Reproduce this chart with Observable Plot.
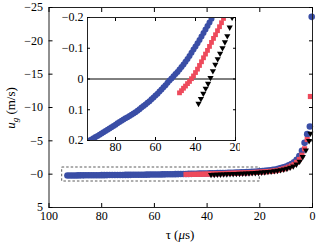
<!DOCTYPE html>
<html><head><meta charset="utf-8">
<script src="https://cdn.jsdelivr.net/npm/d3@7"></script>
<script src="https://cdn.jsdelivr.net/npm/@observablehq/plot@0.6"></script>
<style>
html,body{margin:0;padding:0;background:#fff;}
#wrap{position:relative;width:316px;height:250px;overflow:hidden;font-family:"Liberation Serif","DejaVu Serif",serif;}
#wrap svg{position:absolute;left:0;top:0;}
</style></head><body><div id="wrap"></div>
<script>
// ---- data ----
const blueTau = [93,92,91,90,89,88,87,86,85,84,83,82,81,80,79,78,77,76,75,74,73,72,71,70,69,68,67,66,65,64,63,62,61,60,59,58,57,56,55,54,53,52,51,50,49,48,47,46,45,44,43,42,41,40,39,38,37,36,35,34,33,32,31,30,29,28,27,26,25,24,23,22,21,20,19,18,17,16,15,14,13,12,11,10,9,8,7,6,5,4,3,2,1,0.3];
const blueU = [0.200,0.197,0.193,0.189,0.185,0.181,0.177,0.173,0.169,0.165,0.161,0.157,0.153,0.149,0.144,0.140,0.136,0.132,0.128,0.124,0.120,0.116,0.112,0.108,0.103,0.098,0.093,0.088,0.083,0.077,0.072,0.066,0.060,0.054,0.048,0.041,0.034,0.027,0.020,0.012,0.005,-0.002,-0.009,-0.016,-0.023,-0.031,-0.039,-0.047,-0.056,-0.065,-0.075,-0.085,-0.096,-0.106,-0.116,-0.127,-0.138,-0.150,-0.161,-0.172,-0.184,-0.196,-0.208,-0.22,-0.235,-0.25,-0.265,-0.28,-0.30,-0.32,-0.34,-0.36,-0.39,-0.42,-0.45,-0.49,-0.53,-0.58,-0.64,-0.71,-0.80,-0.90,-1.02,-1.16,-1.32,-1.52,-1.78,-2.15,-2.7,-3.5,-4.7,-6.0,-7.15,-23.6];
const redTau = [48,47,46,45,44,43,42,41,40,39,38,37,36,35,34,33,32,31,30,29,28,27,26,25,24,23,22,21,20,19,18,17,16,15,14,13,12,11,10,9,8,7,6,5,4,3,2,0.8];
const redU = [0.045,0.038,0.030,0.023,0.015,0.008,-0.001,-0.010,-0.021,-0.032,-0.044,-0.056,-0.069,-0.081,-0.093,-0.106,-0.119,-0.132,-0.144,-0.157,-0.170,-0.183,-0.197,-0.21,-0.225,-0.24,-0.26,-0.28,-0.30,-0.33,-0.36,-0.39,-0.43,-0.47,-0.52,-0.58,-0.70,-0.80,-0.92,-1.06,-1.24,-1.46,-1.78,-2.2,-2.85,-3.8,-5.2,-11.65];
const blackTau = [38.5,37.3,36.1,34.9,33.7,32.5,31.3,30.1,28.9,27.7,26.5,25.3,24.1,22.9,21.7,20.5,19.3,18.1,16.9,15.7,14.5,13.3,12.1,10.9,9.7,8.5,7.3,6.1,4.9,3.7,2.5,1.3,0.8];
const blackU = [0.080,0.064,0.047,0.031,0.015,-0.004,-0.026,-0.047,-0.065,-0.083,-0.101,-0.120,-0.140,-0.168,-0.20,-0.235,-0.27,-0.31,-0.36,-0.41,-0.47,-0.54,-0.62,-0.72,-0.84,-1.0,-1.2,-1.48,-1.9,-2.6,-3.6,-5.0,-6.1];

const xTicks = [100,80,60,40,20,0];
const yTicks = [-25,-20,-15,-10,-5,0,5];
const yTickLabels = ["\u221225","\u221220","\u221215","\u221210","\u22125","\u22120","5"];
const insetXTicks = [80,60,40,20];
const insetYTicks = [-0.2,-0.1,0,0.1,0.2];
const insetYTickLabels = ["\u22120.2","\u22120.1","0","0.1","0.2"];
const zoomBox = {tau1: 95, tau2: 20, u1: -1, u2: 1.1};
const insetRef = [0];

const blue = "#3a4ea6", red = "#ee4a5c", black = "#000";
const mk = (t, u) => t.map((d, i) => ({tau: d, u: u[i]}));
const blueData = mk(blueTau, blueU), redData = mk(redTau, redU), blackData = mk(blackTau, blackU);

const font = "'Liberation Serif','Times New Roman','DejaVu Serif',serif";
const wrap = document.getElementById("wrap");

const main = Plot.plot({
  width: 316, height: 250,
  marginLeft: 48.5, marginRight: 4, marginTop: 7, marginBottom: 43,
  style: {fontFamily: font, fontSize: "12px", background: "transparent", color: "#000"},
  x: {domain: [100, 0], label: null},
  y: {domain: [5, -25], label: null},
  marks: [
    Plot.rect([zoomBox], {x1: "tau1", x2: "tau2", y1: "u1", y2: "u2", fill: "none", stroke: "#333", strokeWidth: 0.8, strokeDasharray: "2.5,2"}),
    Plot.dot(blueData, {x: "tau", y: "u", r: 3.3, fill: blue}),
    Plot.dot(redData, {x: "tau", y: "u", r: 2.9, symbol: "square", fill: red}),
    Plot.dot(blackData, {x: "tau", y: "u", r: 2.3, symbol: "triangle", rotate: 180, fill: black}),
    Plot.frame({stroke: "#222"}),
    Plot.axisX(xTicks, {anchor: "bottom", tickSize: 0, tickPadding: 4, label: null, tickFormat: d => String(d)}),
    Plot.axisX(xTicks, {anchor: "bottom", tickSize: -4, tickFormat: () => "", label: null}),
    Plot.axisX(xTicks, {anchor: "top", tickSize: -4, tickFormat: () => "", label: null}),
    Plot.axisY(yTicks, {anchor: "left", tickSize: 0, tickPadding: 6, label: null, tickFormat: (d, i) => yTickLabels[i]}),
    Plot.axisY(yTicks, {anchor: "left", tickSize: -4, tickFormat: () => "", label: null}),
    Plot.axisY(yTicks, {anchor: "right", tickSize: -4, tickFormat: () => "", label: null})
  ]
});
wrap.appendChild(main);

// axis titles
const svg = d3.select(main);
const xl = svg.append("text").attr("x", 180).attr("y", 239).attr("text-anchor", "middle")
  .attr("font-family", font).attr("font-size", 13).attr("fill", "#000");
xl.append("tspan").text("\u03c4 (");
xl.append("tspan").attr("font-style", "italic").text("\u03bc");
xl.append("tspan").text("s)");
const yl = svg.append("text").attr("transform", "translate(15,108) rotate(-90)").attr("text-anchor", "middle")
  .attr("font-family", font).attr("font-size", 13).attr("fill", "#000");
yl.append("tspan").attr("font-style", "italic").text("u");
yl.append("tspan").attr("font-style", "italic").attr("font-size", 9).attr("dy", 3).text("g");
yl.append("tspan").attr("dy", -3).text(" (m/s)");

// inset
const inset = Plot.plot({
  width: 193, height: 152,
  marginLeft: 40, marginRight: 5, marginTop: 11, marginBottom: 18,
  style: {fontFamily: font, fontSize: "12px", background: "transparent", color: "#000"},
  x: {domain: [94, 20], label: null},
  y: {domain: [0.2, -0.2], label: null},
  marks: [
    Plot.frame({fill: "#fff", stroke: "none"}),
    Plot.ruleY(insetRef, {stroke: "#000", strokeWidth: 1}),
    Plot.dot(blueData, {x: "tau", y: "u", r: 3, fill: blue, clip: true}),
    Plot.dot(redData, {x: "tau", y: "u", r: 2.7, symbol: "square", fill: red, clip: true}),
    Plot.dot(blackData, {x: "tau", y: "u", r: 2.3, symbol: "triangle", rotate: 180, fill: black, clip: true}),
    Plot.frame({stroke: "#222"}),
    Plot.axisX(insetXTicks, {anchor: "bottom", tickSize: 0, tickPadding: 2, label: null, tickFormat: d => String(d)}),
    Plot.axisX(insetXTicks, {anchor: "bottom", tickSize: -3, tickFormat: () => "", label: null}),
    Plot.axisX(insetXTicks, {anchor: "top", tickSize: -3, tickFormat: () => "", label: null}),
    Plot.axisY(insetYTicks, {anchor: "left", tickSize: 0, tickPadding: 4, label: null, tickFormat: (d, i) => insetYTickLabels[i]}),
    Plot.axisY(insetYTicks, {anchor: "left", tickSize: -3, tickFormat: () => "", label: null}),
    Plot.axisY(insetYTicks, {anchor: "right", tickSize: -3, tickFormat: () => "", label: null})
  ]
});
inset.style.left = "47px";
inset.style.top = "6px";
wrap.appendChild(inset);
</script>
</body></html>
